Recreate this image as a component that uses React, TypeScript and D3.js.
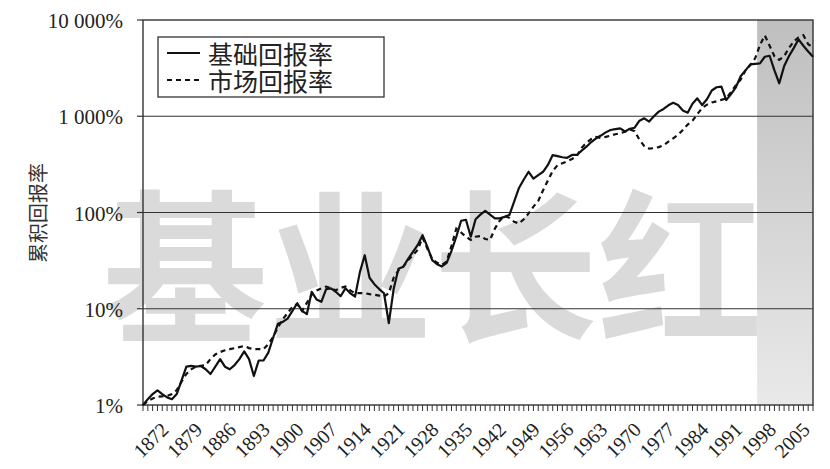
import React from "react";
import * as d3 from "d3";

const years: number[] = d3.range(1871, 2011);

// 基础回报率 (solid), cumulative return in %
const baseReturn: number[] = [
  1.0, 1.15, 1.3, 1.42, 1.3, 1.2, 1.15, 1.3, 1.8, 2.5,
  2.55, 2.5, 2.54, 2.35, 2.1, 2.5, 3.0, 2.5, 2.35, 2.6,
  3.0, 3.6, 3.0, 2.0, 2.9, 2.9, 3.5, 5.0, 7.0, 7.3,
  7.9, 9.5, 11.4, 9.5, 8.8, 15, 12.5, 11.8, 16, 16.3,
  15, 13.5, 16.3, 14.5, 13.4, 24, 36, 21, 18, 16,
  14.5, 7.1, 16, 26, 27.3, 33, 39, 46, 58, 44,
  32, 29, 27.5, 30, 40, 56, 82, 84, 56, 85,
  95, 104, 95, 87, 87, 90, 94, 130, 180, 220,
  265, 225, 245, 265, 312, 395, 385, 375, 370, 396,
  396, 440, 483, 540, 590, 630, 680, 719, 735, 749,
  695, 740, 760, 900, 952, 880, 1000, 1116, 1190, 1300,
  1380, 1308, 1150, 1090, 1350, 1535, 1308, 1500, 1850, 2000,
  2030, 1475, 1700, 2000, 2600, 3000, 3460, 3500, 3540, 4150,
  4250, 3000, 2200, 3300, 4200, 5100, 6300, 5400, 4700, 4150,
];

// 市场回报率 (dashed)
const marketReturn: number[] = [
  1.0, 1.1, 1.17, 1.22, 1.23, 1.24, 1.3, 1.43, 1.75, 2.1,
  2.35, 2.5, 2.55, 2.6, 3.0, 3.35, 3.55, 3.7, 3.8, 3.9,
  4.0, 4.1, 3.9, 3.8, 3.8, 3.8, 4.3, 5.1, 6.4, 7.8,
  9.0, 10.5, 11.2, 9.5, 11.5, 14, 15.5, 16.3, 17, 16.3,
  15.6, 16.5, 17, 15.5, 14.5, 14.5, 14.5, 14.2, 14, 13.7,
  13.4, 14.5, 21, 25, 27.3, 32, 36, 41, 55, 42,
  33, 30, 28.5, 31, 45, 68, 62, 56, 52, 56,
  57, 53, 52, 68, 82, 92, 88, 80, 77, 85,
  98, 115, 132, 170, 215, 270, 310, 325, 340, 360,
  385, 470, 530, 580, 610, 595, 610, 630, 650, 665,
  690, 730, 700, 570, 490, 462, 466, 478, 500, 545,
  590, 640, 720, 820, 900, 1050, 1220, 1320, 1390, 1430,
  1480, 1535, 1780, 2100, 2400, 3000, 3400, 4000, 5500, 6900,
  5400, 4200, 3850, 4200, 5100, 6000, 6600, 6950, 5600, 5200,
];

const xTickYears: number[] = [1872, 1879, 1886, 1893, 1900, 1907, 1914, 1921, 1928, 1935, 1942, 1949, 1956, 1963, 1970, 1977, 1984, 1991, 1998, 2005];
const yTicks: number[] = [1, 10, 100, 1000, 10000];
const yTickLabels: string[] = ["1%", "10%", "100%", "1 000%", "10 000%"];
const gridValues: number[] = [10, 100, 1000];
const shadeRange: number[] = [1998.4, 2010];
const seriesNames: string[] = ["基础回报率", "市场回报率"];
const yTitle = "累积回报率";
const watermark = "基业长红";

const W = 830, H = 469;
const L = 143, R = 813, T = 20, B = 405;

export default function App() {
  const x = d3.scaleLinear().domain([1871, 2010]).range([L, R]);
  const y = d3.scaleLog().domain([1, 10000]).range([B, T]);
  const line = d3.line<number>().x((_, i) => x(years[i])).y((d) => y(d));
  const serif = "Liberation Serif, DejaVu Serif, serif";
  const cjk = "Noto Sans CJK SC, sans-serif";

  return (
    <svg width={W} height={H} style={{ position: "absolute", left: 0, top: 0, background: "#fff" }}>
      <defs>
        <linearGradient id="shade" x1="0" y1="0" x2="0" y2="1">
          <stop offset="0" stopColor="#bfbfbf" />
          <stop offset="1" stopColor="#e9e9e9" />
        </linearGradient>
      </defs>
      <rect x={0} y={0} width={W} height={H} fill="#fff" />
      <text x={103} y={330} fontFamily={cjk} fontWeight={700} fontSize={165} fill="#dadada">
        {watermark}
      </text>
      <rect x={x(shadeRange[0])} y={T} width={x(shadeRange[1]) - x(shadeRange[0])} height={B - T} fill="url(#shade)" />
      {gridValues.map((v) => (
        <line key={v} x1={L} x2={R} y1={y(v)} y2={y(v)} stroke="#333" strokeWidth={1.2} />
      ))}
      <rect x={L} y={T} width={R - L} height={B - T} fill="none" stroke="#333" strokeWidth={1.4} />
      {years.map((yr) => (
        <line key={yr} x1={x(yr)} x2={x(yr)} y1={B} y2={B + 6} stroke="#333" strokeWidth={1} />
      ))}
      {yTicks.map((v, i) => (
        <g key={v}>
          <line x1={L - 6} x2={L} y1={y(v)} y2={y(v)} stroke="#333" strokeWidth={1.2} />
          <text x={123} y={y(v) + 1} textAnchor="end" dominantBaseline="central" fontFamily={serif} fontSize={21} fill="#222">
            {yTickLabels[i]}
          </text>
        </g>
      ))}
      {xTickYears.map((yr) => (
        <text
          key={yr}
          transform={`translate(${x(yr) + 3},${440}) rotate(-45)`}
          textAnchor="middle"
          dominantBaseline="central"
          fontFamily={serif}
          fontSize={20}
          fill="#222"
        >
          {yr}
        </text>
      ))}
      <text transform={`translate(37,213) rotate(-90)`} textAnchor="middle" dominantBaseline="central" fontFamily={cjk} fontSize={20} fill="#333">
        {yTitle}
      </text>
      <path d={line(marketReturn) || ""} fill="none" stroke="#111" strokeWidth={2.2} strokeDasharray="5,4" />
      <path d={line(baseReturn) || ""} fill="none" stroke="#111" strokeWidth={2.2} strokeLinejoin="round" />
      <g>
        <rect x={158} y={37} width={226} height={60} fill="#fff" stroke="#333" strokeWidth={1.3} />
        <line x1={167} x2={200} y1={53} y2={53} stroke="#111" strokeWidth={2.2} />
        <line x1={167} x2={200} y1={80} y2={80} stroke="#111" strokeWidth={2.2} strokeDasharray="5,4" />
        <text x={208} y={53} dominantBaseline="central" fontFamily={cjk} fontSize={25} fill="#222">{seriesNames[0]}</text>
        <text x={208} y={80} dominantBaseline="central" fontFamily={cjk} fontSize={25} fill="#222">{seriesNames[1]}</text>
      </g>
    </svg>
  );
}
